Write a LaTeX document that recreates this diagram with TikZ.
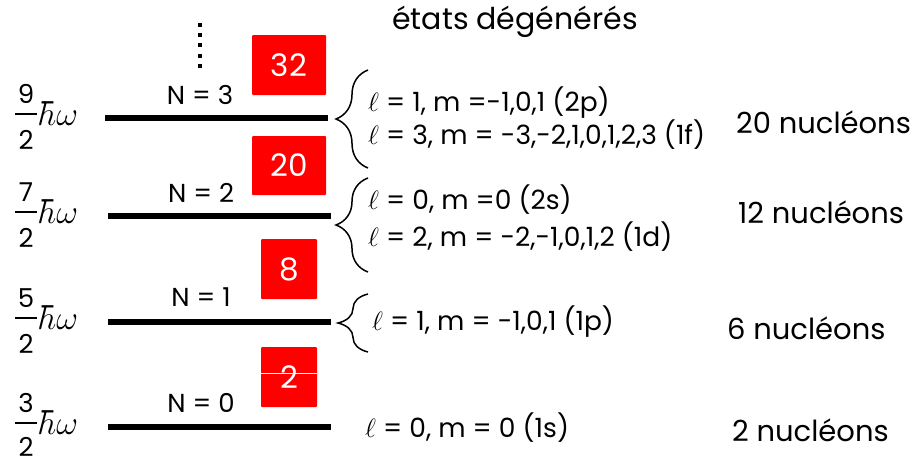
\RequirePackage{fix-cm}
\documentclass[tikz,border=0pt]{standalone}
\usepackage{graphicx}
\usepackage{fontspec}
\setmainfont{Poppins}
\usetikzlibrary{decorations.pathreplacing}
\definecolor{boxred}{RGB}{255,0,0}
\tikzset{
 level/.style={line width=5.5pt},
 redbox/.style={fill=boxred, rounded corners=1pt, text=white, font=\fontsize{31}{31}\selectfont, inner sep=0pt},
 nlab/.style={font=\fontsize{26}{26}\selectfont, inner sep=0pt},
 state/.style={font=\fontsize{26.5}{26.5}\selectfont, anchor=west, inner sep=0pt},
 nuc/.style={font=\fontsize{29}{29}\selectfont, anchor=west, inner sep=0pt},
 digit/.style={font=\fontsize{26}{26}\selectfont, inner sep=0pt},
 hw/.style={font=\fontsize{24}{24}\selectfont, inner sep=0pt, anchor=west},
 fracbar/.style={line width=1.3pt},
 title/.style={font=\fontsize{30}{30}\selectfont, inner sep=0pt},
 brc/.style={decorate, decoration={brace, amplitude=32pt}, line width=1.5pt},
 dotsq/.style={fill=black},
}
\begin{document}
\begin{tikzpicture}[x=1pt,y=-1pt]
\useasboundingbox (0,0) rectangle (915,461);
% title
\node[title] (titre) at (515,22) {états dégénérés};
% dots
\foreach \y in {25,35,45,56,66} \fill[dotsq] (198,\y-2) rectangle ++(4,4);
% levels
\coordinate (l3a) at (105,118); \coordinate (l3b) at (328,118);
\coordinate (l2a) at (108,216); \coordinate (l2b) at (331,216);
\coordinate (l1a) at (108,322); \coordinate (l1b) at (331,322);
\coordinate (l0a) at (108,427); \coordinate (l0b) at (331,427);
\draw[level] (l3a) -- (l3b);
\draw[level] (l2a) -- (l2b);
\draw[level] (l1a) -- (l1b);
\draw[level] (l0a) -- (l0b);
% energies: numerator, bar, denominator, hbar omega
\foreach \n/\y/\d in {9/118/22,7/216/22,5/322/22,3/427/20}{
  \node[digit] (num\n) at (26,\y-24) {\n};
  \node[digit] (den\n) at (26,\y+\d) {2};
  \draw[fracbar] (15,\y-4) -- (37,\y-4);
  \node[hw] (hw\n) at (41,\y-4) {\scalebox{1.4}{$\hbar\omega$}};
}
% N labels
\node[nlab] (n3) at (200,95) {N = 3};
\node[nlab] (n2) at (201,193) {N = 2};
\node[nlab] (n1) at (201,297) {N = 1};
\node[nlab] (n0) at (201,403) {N = 0};
% red boxes
\node[redbox, minimum width=74pt, minimum height=60pt] (b32) at (289,65) {32};
\node[redbox, minimum width=74pt, minimum height=59pt] (b20) at (289,165.5) {20};
\node[redbox, minimum width=56pt, minimum height=60pt] (b8) at (289,269) {8};
\node[redbox, minimum width=56pt, minimum height=60pt] (b2) at (289,377) {2};
\draw[white, line width=0.6pt] (b2.west |- 0,373) -- (b2.east |- 0,373);
% braces
\coordinate (br3a) at (368,168); \coordinate (br3b) at (368,70);
\coordinate (br2a) at (368,272); \coordinate (br2b) at (368,178);
\coordinate (br1a) at (368,352); \coordinate (br1b) at (368,294);
\draw[brc] (br3a) -- (br3b);
\draw[brc] (br2a) -- (br2b);
\draw[brc, decoration={amplitude=30pt}] (br1a) -- (br1b);
% states
\node[state] (s3a) at (368,103) {$\ell$ = 1, m =-1,0,1 (2p)};
\node[state] (s3b) at (368,135) {$\ell$ = 3, m = -3,-2,1,0,1,2,3 (1f)};
\node[state] (s2a) at (368,200) {$\ell$ = 0, m =0 (2s)};
\node[state] (s2b) at (368,237) {$\ell$ = 2, m = -2,-1,0,1,2 (1d)};
\node[state] (s1) at (372,322) {$\ell$ = 1, m = -1,0,1 (1p)};
\node[state] (s0) at (365,428) {$\ell$ = 0, m = 0 (1s)};
% nucleons
\node[nuc] (u3) at (736,122) {20 nucléons};
\node[nuc] (u2) at (738,212) {12 nucléons};
\node[nuc] (u1) at (727,328) {6 nucléons};
\node[nuc] (u0) at (732,430) {2 nucléons};
\end{tikzpicture}
\end{document}
